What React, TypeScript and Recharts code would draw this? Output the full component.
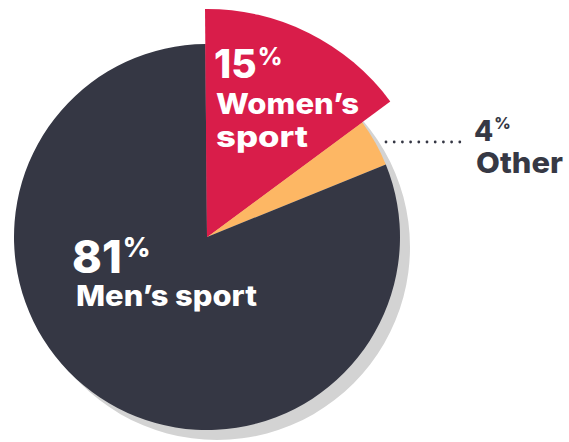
import React from "react";
import { PieChart, Pie, Cell } from "recharts";

const categories = ["Women's sport", "Other", "Men's sport"];
const values = [15, 4, 81];
const percentLabels = ["15", "4", "81"];
const colors = ["#d91d4a", "#fdb764", "#353744"];
const shadowData = [{ name: "shadow", value: 100 }];

const data = categories.map((name, i) => ({ name, value: values[i] }));

const FONT = "Inter, 'Open Sans', sans-serif";

const renderLabel = (props: any) => {
  const { cx, cy, index } = props;
  if (index === 0) {
    return (
      <g key="l0" fontFamily={FONT} fontWeight={800} fill="#ffffff">
        <text x={cx + 7} y={cy - 159} fontSize={39} fill="#fff">
          {percentLabels[0]}
          <tspan fontSize={24} dy={-13} dx={1}>%</tspan>
        </text>
        <text x={cx + 9} y={cy - 123} fontSize={29} fill="#fff" textLength={143} lengthAdjust="spacingAndGlyphs">Women’s</text>
        <text x={cx + 9} y={cy - 90} fontSize={29} fill="#fff" textLength={92} lengthAdjust="spacingAndGlyphs">sport</text>
      </g>
    );
  }
  if (index === 1) {
    const dots = [];
    for (let k = 0; k < 10; k++) {
      dots.push(<circle key={k} cx={cx + 179 + k * 8.2} cy={cy - 95} r={1.4} fill="#353744" />);
    }
    return (
      <g key="l1" fontFamily={FONT} fontWeight={800}>
        {dots}
        <text x={cx + 267} y={cy - 96} fontSize={28} fill="#363844">
          {percentLabels[1]}
          <tspan fontSize={16} dy={-12} dx={1}>%</tspan>
        </text>
        <text x={cx + 269} y={cy - 64} fontSize={29} fill="#363844" textLength={87} lengthAdjust="spacingAndGlyphs">Other</text>
      </g>
    );
  }
  return (
    <g key="l2" fontFamily={FONT} fontWeight={800}>
      <text x={cx - 135} y={cy + 36} fontSize={45} fill="#fff">
        {percentLabels[2]}
        <tspan fontSize={27} dy={-16} dx={1}>%</tspan>
      </text>
      <text x={cx - 131} y={cy + 69} fontSize={28} fill="#fff" textLength={181} lengthAdjust="spacingAndGlyphs">Men’s sport</text>
    </g>
  );
};

export default function App() {
  return (
    <div style={{ position: "absolute", left: 0, top: 0 }}>
      <PieChart width={569} height={442} margin={{ top: 0, right: 0, bottom: 0, left: 0 }}>
        <Pie
          data={shadowData}
          dataKey="value"
          cx={217}
          cy={247}
          outerRadius={193}
          startAngle={90}
          endAngle={-270}
          stroke="none"
          fill="#d3d3d3"
          isAnimationActive={false}
        />
        <Pie
          data={data}
          dataKey="value"
          cx={207}
          cy={237}
          outerRadius={193}
          startAngle={90.5}
          endAngle={-269.5}
          stroke="none"
          isAnimationActive={false}
        >
          {data.map((d, i) => (
            <Cell key={d.name} fill={colors[i]} />
          ))}
        </Pie>
        <Pie
          data={data}
          dataKey="value"
          cx={207}
          cy={237}
          outerRadius={228}
          startAngle={90.5}
          endAngle={-269.5}
          stroke="none"
          label={renderLabel}
          labelLine={false}
          isAnimationActive={false}
        >
          {data.map((d, i) => (
            <Cell key={d.name} fill={i === 0 ? colors[0] : "none"} />
          ))}
        </Pie>
      </PieChart>
    </div>
  );
}
